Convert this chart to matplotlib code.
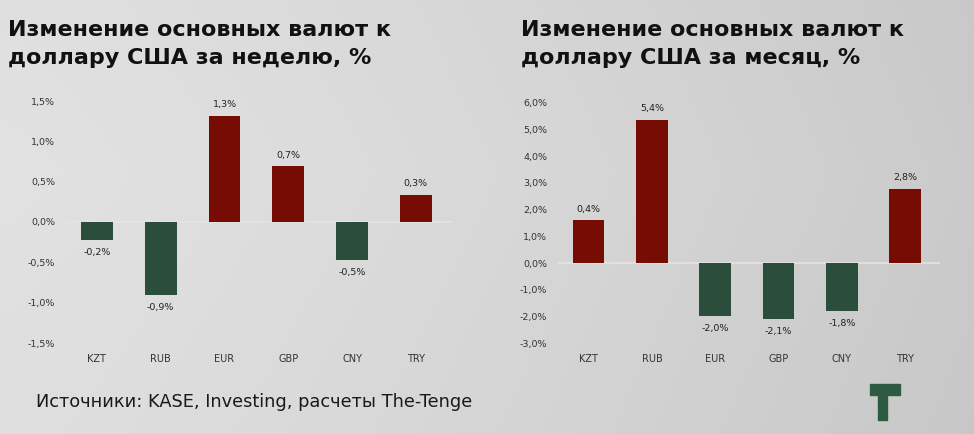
import matplotlib.pyplot as plt
import numpy as np
from matplotlib.patches import Rectangle

# Данные
currencies = ['KZT', 'RUB', 'EUR', 'GBP', 'CNY', 'TRY']

week_values = [-0.22, -0.9, 1.32, 0.69, -0.47, 0.34]
week_labels = ['-0,2%', '-0,9%', '1,3%', '0,7%', '-0,5%', '0,3%']
week_ticks = [-1.5, -1.0, -0.5, 0.0, 0.5, 1.0, 1.5]
week_ticklabels = ['-1,5%', '-1,0%', '-0,5%', '0,0%', '0,5%', '1,0%', '1,5%']

month_values = [1.6, 5.38, -2.0, -2.1, -1.8, 2.78]
month_labels = ['0,4%', '5,4%', '-2,0%', '-2,1%', '-1,8%', '2,8%']
month_ticks = [-3, -2, -1, 0, 1, 2, 3, 4, 5, 6]
month_ticklabels = ['-3,0%', '-2,0%', '-1,0%', '0,0%', '1,0%', '2,0%',
                    '3,0%', '4,0%', '5,0%', '6,0%']

RED = '#760c04'
GREEN = '#2b4d3b'
W, H = 974, 434

plt.rcParams['font.family'] = ['DejaVu Sans']

fig = plt.figure(figsize=(W / 100, H / 100), dpi=100)

# фон с градиентом
bg = fig.add_axes([0, 0, 1, 1], zorder=-10)
xx = np.linspace(0, 1, 300)
yy = np.linspace(0, 1, 150)
X, Y = np.meshgrid(xx, yy)
grad = 0.885 - 0.09 * X ** 1.3 - 0.02 * np.abs(Y - 0.4)
bg.imshow(np.dstack([grad, grad, grad]), aspect='auto', extent=[0, 1, 0, 1])
bg.axis('off')


def px(left, top, right, bottom):
    return [left / W, 1 - bottom / H, (right - left) / W, (bottom - top) / H]


def draw(ax, values, labels, ticks, ticklabels, ylim):
    x = np.arange(len(values))
    colors = [RED if v >= 0 else GREEN for v in values]
    ax.axhline(0, color='#e4e4e4', lw=1.2, zorder=1)
    ax.bar(x, values, width=0.5, color=colors, zorder=2)
    for xi, v, lab in zip(x, values, labels):
        off = 8 if v >= 0 else -9
        ax.annotate(lab, (xi, v), xytext=(0, off), textcoords='offset points',
                    ha='center', va='center', fontsize=6.8, color='#222222')
    ax.set_xlim(-0.5, 5.55)
    ax.set_ylim(*ylim)
    ax.set_xticks(x)
    ax.set_xticklabels(currencies, fontsize=7, color='#333333')
    ax.set_yticks(ticks)
    ax.set_yticklabels(ticklabels, fontsize=6.8, color='#333333')
    ax.tick_params(length=0)
    ax.tick_params(axis='y', pad=7)
    ax.tick_params(axis='x', pad=8)
    ax.patch.set_visible(False)
    for s in ax.spines.values():
        s.set_visible(False)


ax1 = fig.add_axes(px(65, 101, 451, 343))
draw(ax1, week_values, week_labels, week_ticks, week_ticklabels, (-1.5, 1.5))

ax2 = fig.add_axes(px(557, 103, 940, 343))
draw(ax2, month_values, month_labels, month_ticks, month_ticklabels, (-3, 6))

# заголовки
titles = [(8, 'Изменение основных валют к', 'доллару США за неделю, %'),
          (521, 'Изменение основных валют к', 'доллару США за месяц, %')]
for x0, l1, l2 in titles:
    fig.text(x0 / W, 1 - 36 / H, l1, fontsize=16, fontweight='bold',
             color='#111111', ha='left', va='baseline')
    fig.text(x0 / W, 1 - 64 / H, l2, fontsize=16, fontweight='bold',
             color='#111111', ha='left', va='baseline')

# источник
fig.text(36 / W, 1 - 407 / H, 'Источники: KASE, Investing, расчеты The-Tenge',
         fontsize=12.8, color='#1a1a1a', ha='left', va='baseline')

# логотип
logo = '#2d5a40'
for r in [(870, 384, 30, 5), (870, 390, 30, 5), (878, 390, 9, 30)]:
    fig.patches.append(Rectangle((r[0] / W, 1 - (r[1] + r[3]) / H), r[2] / W, r[3] / H,
                                 transform=fig.transFigure, color=logo, zorder=5))

fig.savefig('out.png', dpi=100)
